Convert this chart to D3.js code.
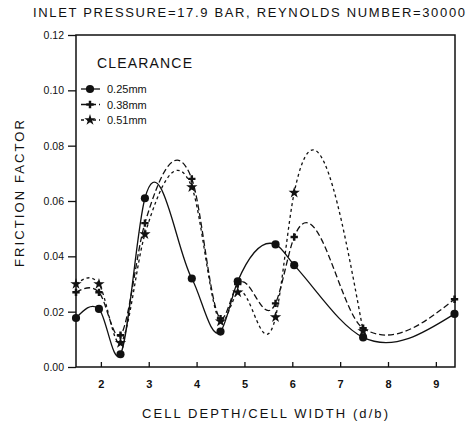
<!DOCTYPE html>
<html>
<head>
<meta charset="utf-8">
<script src="https://cdn.jsdelivr.net/npm/d3@7"></script>
<style>
  body { margin: 0; background: #fff; }
  svg { display: block; }
  text { font-family: "Liberation Sans", Arial, sans-serif; fill: #111; }
</style>
</head>
<body>
<div id="chart"></div>
<script>
// Data
const xTicks = [2, 3, 4, 5, 6, 7, 8, 9];
const yTicks = [0.00, 0.02, 0.04, 0.06, 0.08, 0.10, 0.12];

const depth025 = [1.48, 1.96, 2.41, 2.92, 3.90, 4.50, 4.86, 5.65, 6.04, 7.48, 9.39];
const friction025 = [0.0177, 0.021, 0.0046, 0.061, 0.032, 0.0128, 0.031, 0.0443, 0.0368, 0.0107, 0.0192];

const depth038 = [1.48, 1.96, 2.41, 2.92, 3.90, 4.50, 4.86, 5.65, 6.04, 7.48, 9.39];
const friction038 = [0.027, 0.027, 0.0115, 0.052, 0.068, 0.0175, 0.030, 0.023, 0.047, 0.014, 0.0245];

const depth051 = [1.48, 1.96, 2.41, 2.92, 3.90, 4.50, 4.86, 5.65, 6.04, 7.48];
const friction051 = [0.030, 0.030, 0.0087, 0.048, 0.065, 0.0165, 0.027, 0.018, 0.063, 0.013];

const seriesNames = ["0.25mm", "0.38mm", "0.51mm"];

/**
 * Curve that draws a cubic Hermite spline of y against x,
 * slopes from the parabola through three neighbouring points (no monotone limit)
 */
function CurveParabolicX(context){
    this._context = context;
}
CurveParabolicX.prototype = {
    areaStart: function(){ this._line = 0; },
    areaEnd: function(){ this._line = NaN; },
    lineStart: function(){ this._x = []; this._y = []; },
    point: function(x, y){ this._x.push(+x); this._y.push(+y); },
    lineEnd: function(){
        let x = this._x, y = this._y, n = x.length, ctx = this._context;
        if(!n) return;
        ctx.moveTo(x[0], y[0]);
        if(n == 2){ ctx.lineTo(x[1], y[1]); return; }
        let h = [], s = [], m = new Array(n);
        for(let i = 0; i < n - 1; ++i){
            h.push(x[i+1] - x[i]);
            s.push((y[i+1] - y[i]) / h[i]);
        }
        for(let i = 1; i < n - 1; ++i){
            m[i] = (s[i-1] * h[i] + s[i] * h[i-1]) / (h[i-1] + h[i]);
        }
        m[0] = (3 * s[0] - m[1]) / 2;
        m[n-1] = (3 * s[n-2] - m[n-2]) / 2;
        for(let i = 0; i < n - 1; ++i){
            let dx = h[i] / 3;
            ctx.bezierCurveTo(
                x[i] + dx, y[i] + m[i] * dx,
                x[i+1] - dx, y[i+1] - m[i+1] * dx,
                x[i+1], y[i+1]);
        }
    }
};
const curveParabolicX = function(context){ return new CurveParabolicX(context); };

const width = 470, height = 422;
const margin = {top: 35, right: 15, bottom: 55, left: 76};
const plotW = width - margin.left - margin.right;
const plotH = height - margin.top - margin.bottom;

const svg = d3.select("#chart").append("svg")
    .attr("width", width)
    .attr("height", height);

const g = svg.append("g")
    .attr("transform", "translate(" + margin.left + "," + margin.top + ")");

const xScale = d3.scaleLinear().domain([1.48, 9.4]).range([0, plotW]);
const yScale = d3.scaleLinear().domain([0, 0.12]).range([plotH, 0]);

// Title
svg.append("text")
    .attr("x", 33)
    .attr("y", 17)
    .attr("textLength", 432)
    .attr("lengthAdjust", "spacing")
    .style("font-size", "13px")
    .text("INLET PRESSURE=17.9 BAR, REYNOLDS NUMBER=30000");

// Frame
g.append("rect")
    .attr("x", 0)
    .attr("y", 0)
    .attr("width", plotW)
    .attr("height", plotH)
    .attr("fill", "none")
    .attr("stroke", "#111")
    .attr("stroke-width", 1.5);

// Y axis
const yAxis = g.append("g")
    .call(d3.axisLeft(yScale).tickValues(yTicks).tickFormat(d3.format(".2f")).tickSize(8).tickPadding(4));
yAxis.select(".domain").remove();
yAxis.selectAll("line").attr("stroke", "#111").attr("stroke-width", 1.3);
yAxis.selectAll("text")
    .style("font-size", "10.5px")
    .style("font-family", "'Liberation Sans', Arial, sans-serif")
    .attr("fill", "#111");

// X axis, ticks inward
const xAxis = g.append("g")
    .attr("transform", "translate(0," + plotH + ")")
    .call(d3.axisBottom(xScale).tickValues(xTicks).tickFormat(d3.format("d")).tickSize(-5).tickPadding(13));
xAxis.select(".domain").remove();
xAxis.selectAll("line").attr("stroke", "#111").attr("stroke-width", 1.3);
xAxis.selectAll("text")
    .style("font-size", "11px")
    .style("font-weight", "bold")
    .style("font-family", "'Liberation Sans', Arial, sans-serif")
    .attr("fill", "#111");

// Axis titles
svg.append("text")
    .attr("x", 142)
    .attr("y", 418)
    .attr("textLength", 246)
    .attr("lengthAdjust", "spacing")
    .style("font-size", "13px")
    .text("CELL DEPTH/CELL WIDTH (d/b)");

svg.append("text")
    .attr("transform", "translate(24,267) rotate(-90)")
    .attr("x", 0)
    .attr("y", 0)
    .attr("textLength", 147)
    .attr("lengthAdjust", "spacing")
    .style("font-size", "13px")
    .text("FRICTION FACTOR");

// Curves
const series = [
    {name: seriesNames[0], xs: depth025, ys: friction025, dash: null, symbol: d3.symbolCircle, size: 52},
    {name: seriesNames[1], xs: depth038, ys: friction038, dash: "6,3", symbol: d3.symbolCross, size: 30},
    {name: seriesNames[2], xs: depth051, ys: friction051, dash: "3,3", symbol: d3.symbolStar, size: 40}
];

const line = d3.line()
    .x(function(d) { return xScale(d[0]); })
    .y(function(d) { return yScale(d[1]); })
    .curve(curveParabolicX);

series.forEach(function(s) {
    let pts = d3.zip(s.xs, s.ys);
    g.append("path")
        .datum(pts)
        .attr("fill", "none")
        .attr("stroke", "#111")
        .attr("stroke-width", 1.3)
        .attr("stroke-dasharray", s.dash)
        .attr("d", line);

    g.selectAll(null)
        .data(pts)
        .enter()
        .append("path")
        .attr("transform", function(d) { return "translate(" + xScale(d[0]) + "," + yScale(d[1]) + ")"; })
        .attr("d", d3.symbol().type(s.symbol).size(s.size))
        .attr("fill", "#111");
});

// Legend
svg.append("text")
    .attr("x", 97)
    .attr("y", 68)
    .attr("textLength", 95)
    .attr("lengthAdjust", "spacing")
    .style("font-size", "14px")
    .text("CLEARANCE");

const legendY = [89, 104.5, 120];
series.forEach(function(s, i) {
    let lg = svg.append("g").attr("transform", "translate(0," + legendY[i] + ")");
    lg.append("line")
        .attr("x1", 81)
        .attr("x2", 100)
        .attr("y1", 0)
        .attr("y2", 0)
        .attr("stroke", "#111")
        .attr("stroke-width", 1.3)
        .attr("stroke-dasharray", s.dash);
    lg.append("path")
        .attr("transform", "translate(90,0)")
        .attr("d", d3.symbol().type(s.symbol).size(s.size))
        .attr("fill", "#111");
    lg.append("text")
        .attr("x", 107)
        .attr("y", 4)
        .style("font-size", "11px")
        .text(s.name);
});
</script>
</body>
</html>
